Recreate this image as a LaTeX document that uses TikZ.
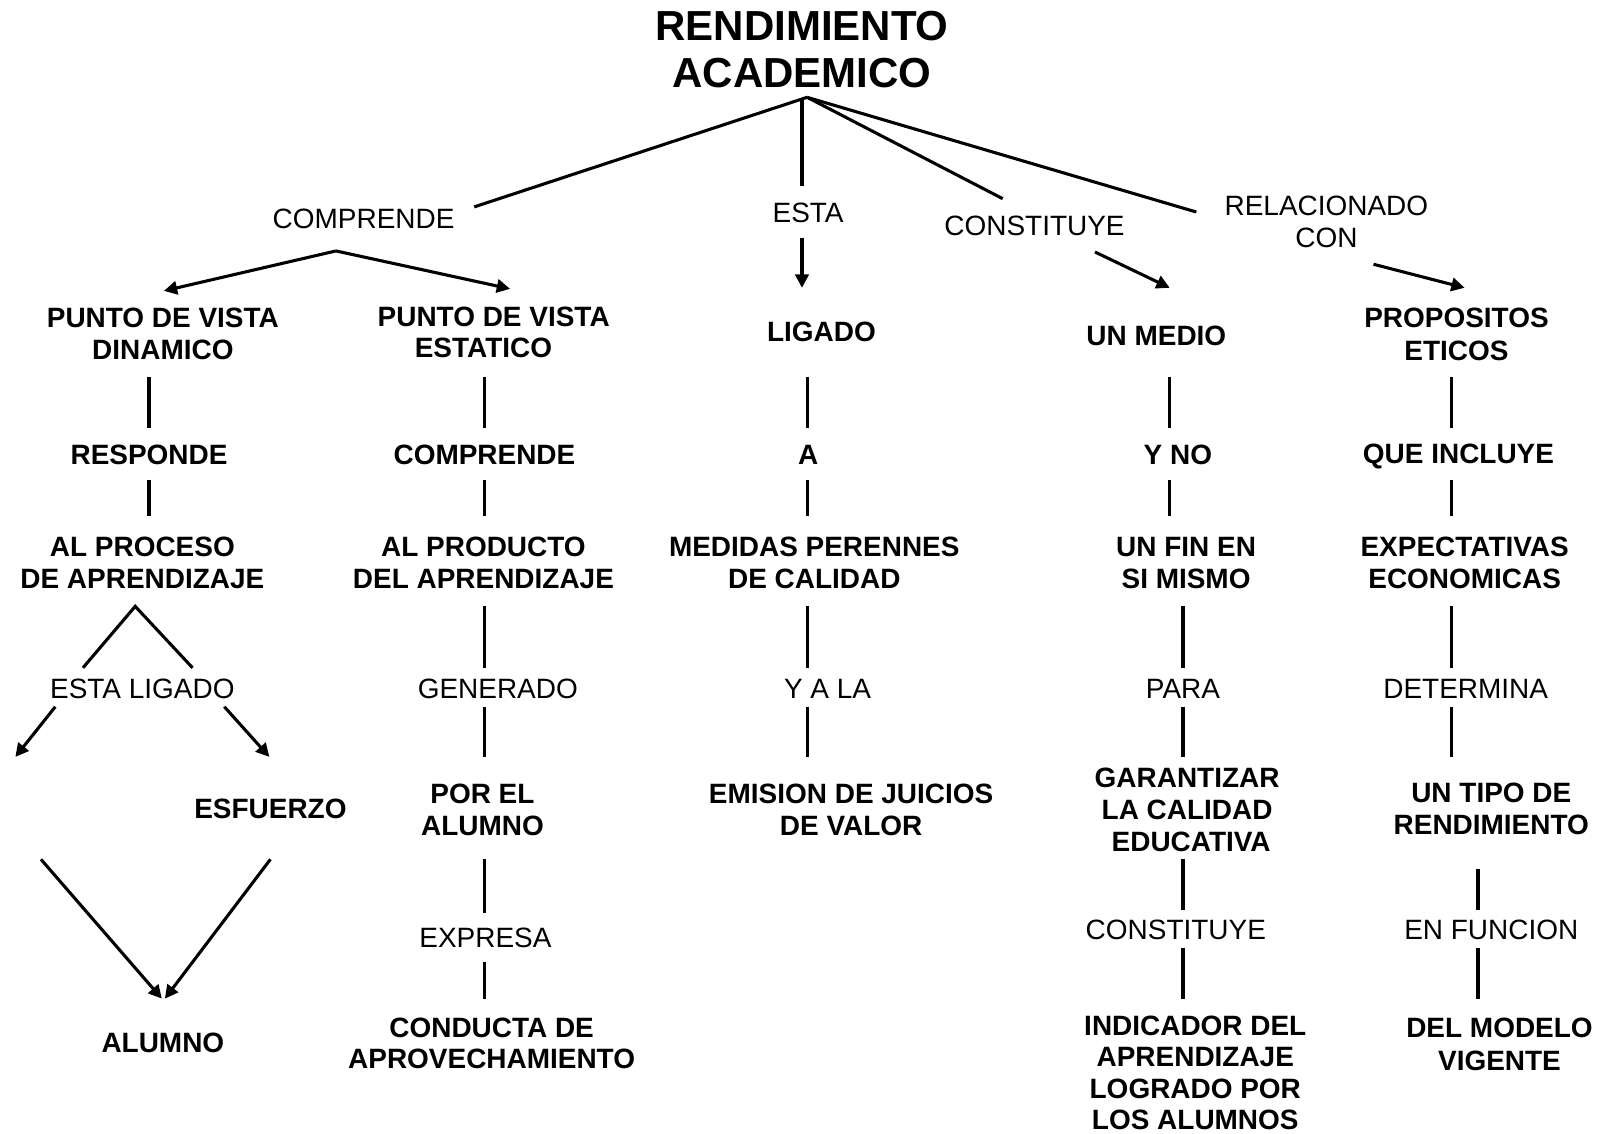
\documentclass[tikz,border=0pt]{standalone}
\usepackage{fontspec}
\setmainfont{Liberation Sans}
\usetikzlibrary{arrows.meta,calc}
% vertical segment between two nodes: upper, lower, dx, offset from upper centre, offset from lower centre
\newcommand\seg[5]{\draw[conn] ($(#2.center |- #1.center)+(#3,#4)$) -- ($(#2.center)+(#3,#5)$);}
\begin{document}
\begin{tikzpicture}[x=1pt,y=-1pt,
  conn/.style={line width=3pt},
  arr/.style={line width=3pt,-{Triangle[length=13pt,width=13pt]}},
  bnode/.style={inner sep=0pt,align=center,font=\fontsize{27.3}{31}\selectfont\bfseries},
  rnode/.style={inner sep=0pt,align=center,font=\fontsize{27.3}{31}\selectfont},
  tnode/.style={inner sep=0pt,align=center,font=\fontsize{41}{46}\selectfont\bfseries}]
\useasboundingbox[fill=white] (0,0) rectangle (1568,1107);

% title and first-level labels
\node[tnode] (title) at (783,48) {RENDIMIENTO\\ACADEMICO};
\node[rnode] (lcomp) at (355,214) {COMPRENDE};
\node[rnode] (lesta) at (789,208) {ESTA};
\node[rnode] (lconst) at (1010,221) {CONSTITUYE};
\node[rnode] (lrel) at (1295,216.5) {RELACIONADO\\CON};

% level 1
\node[bnode] (n11) at (159,326) {PUNTO DE VISTA\\DINAMICO};
\node[bnode] (n21) at (482,324.5) {PUNTO DE VISTA\\ESTATICO\kern20pt};
\node[bnode] (n31) at (802,324) {LIGADO};
\node[bnode] (n41) at (1129,328) {UN MEDIO};
\node[bnode,font=\fontsize{27.3}{33}\selectfont\bfseries] (n51) at (1422,326.5) {PROPOSITOS\\ETICOS};

% level 2 labels
\node[bnode] (r2a) at (145.5,444) {RESPONDE};
\node[bnode] (r2b) at (473,444) {COMPRENDE};
\node[bnode] (r2c) at (789,444) {A};
\node[bnode] (r2d) at (1150,444) {Y NO};
\node[bnode] (r2e) at (1424,446) {QUE INCLUYE};

% level 3
\node[bnode] (r3a) at (139,549.5) {AL PROCESO\\DE APRENDIZAJE};
\node[bnode] (r3b) at (472,549.5) {AL PRODUCTO\\DEL APRENDIZAJE};
\node[bnode] (r3c) at (795,549.5) {MEDIDAS PERENNES\\DE CALIDAD};
\node[bnode] (r3d) at (1158,549.5) {UN FIN EN\\SI MISMO};
\node[bnode] (r3e) at (1430,549.5) {EXPECTATIVAS\\ECONOMICAS};

% level 4 labels
\node[rnode] (l4a) at (139,673) {ESTA LIGADO};
\node[rnode] (l4b) at (486,673) {GENERADO};
\node[rnode] (l4c) at (808,673) {Y A LA};
\node[rnode] (l4d) at (1155,673) {PARA};
\node[rnode] (l4e) at (1431,673) {DETERMINA};

% level 5
\coordinate (vacio) at (15,739);
\node[bnode] (r5a) at (264,790) {ESFUERZO};
\node[bnode] (r5b) at (471,790.5) {POR EL\\ALUMNO};
\node[bnode] (r5c) at (831,790.5) {EMISION DE JUICIOS\\DE VALOR};
\node[bnode] (r5d) at (1159,790.5) {GARANTIZAR\\LA CALIDAD\\\kern8pt EDUCATIVA};
\node[bnode] (r5e) at (1456,790) {UN TIPO DE\\RENDIMIENTO};

% level 6 labels
\node[rnode] (l6b) at (474,915.5) {EXPRESA};
\node[rnode] (l6d) at (1148,908) {CONSTITUYE};
\node[rnode] (l6e) at (1456,908) {EN FUNCION};

% level 7
\node[bnode] (r7a) at (159,1018) {ALUMNO};
\node[bnode,font=\fontsize{27.3}{30}\selectfont\bfseries] (r7b) at (480,1019) {CONDUCTA DE\\APROVECHAMIENTO};
\node[bnode,font=\fontsize{27.3}{30.5}\selectfont\bfseries] (r7d) at (1167,1047.5) {INDICADOR DEL\\APRENDIZAJE\\LOGRADO POR\\LOS ALUMNOS};
\node[bnode,font=\fontsize{27.3}{32}\selectfont\bfseries] (r7e) at (1464,1020) {DEL MODELO\\VIGENTE};

% connectors from the title
\coordinate (apex) at ($(title.center)+(5,47)$);
\draw[conn] (apex) -- ($(lcomp.center)+(108,-12)$);
\draw[conn] ($(title.center)+(0,48)$) -- ($(lesta.center)+(-6,-26)$);
\draw[conn] (apex) -- ($(lconst.center)+(-31,-27)$);
\draw[conn] (apex) -- ($(lrel.center)+(-127,-9.5)$);

% arrows to level 1
\draw[arr] ($(lcomp.center)+(-27,31)$) -- ($(n11.center)+(1,-42)$);
\draw[arr] ($(lcomp.center)+(-27,31)$) -- ($(n21.center)+(16,-42.5)$);
\draw[arr] ($(lesta.center)+(-6,24)$) -- ($(n31.center)+(-19,-43)$);
\draw[arr] ($(lconst.center)+(59,25)$) -- ($(n41.center)+(13,-47)$);
\draw[arr] ($(lrel.center)+(46,41.5)$) -- ($(n51.center)+(8,-45.5)$);

% column 1
\seg{n11}{r2a}{0}{42}{-26}
\seg{r2a}{r3a}{6.5}{25}{-45.5}
\draw[conn] ($(l4a.center)+(-58,-21)$) -- ($(r3a.center)+(-7,42.5)$) -- ($(l4a.center)+(49,-21)$);
\draw[arr] ($(l4a.center)+(-85,17)$) -- (vacio);
\draw[arr] ($(l4a.center)+(80,17)$) -- ($(r5a.center)+(-1,-51)$);
\draw[arr] ($(vacio)+(25,100)$) -- ($(r7a.center)+(-1,-43)$);
\draw[arr] ($(r5a.center)+(0,49)$) -- ($(r7a.center)+(2,-43)$);

% column 2
\seg{n21}{r2b}{0}{43.5}{-26}
\seg{r2b}{r3b}{1}{25}{-45.5}
\seg{r3b}{l4b}{-13}{42.5}{-21}
\seg{l4b}{r5b}{2}{17}{-51.5}
\seg{r5b}{l6b}{-1}{48.5}{-24.5}
\seg{l6b}{r7b}{-7}{23.5}{-44}

% column 3
\seg{n31}{r2c}{-1}{44}{-26}
\seg{r2c}{r3c}{-7}{25}{-45.5}
\seg{r3c}{l4c}{-20}{42.5}{-21}
\seg{l4c}{r5c}{-43}{17}{-51.5}

% column 4
\seg{n41}{r2d}{-8}{40}{-26}
\seg{r2d}{r3d}{-16}{25}{-45.5}
\seg{r3d}{l4d}{0}{42.5}{-21}
\seg{l4d}{r5d}{-4}{17}{-51.5}
\seg{r5d}{l6d}{7}{48.5}{-20}
\seg{l6d}{r7d}{-12}{18}{-72.5}

% column 5
\seg{n51}{r2e}{-7}{41.5}{-28}
\seg{r2e}{r3e}{-13}{23}{-45.5}
\seg{r3e}{l4e}{-14}{42.5}{-21}
\seg{l4e}{r5e}{-39}{17}{-51}
\seg{r5e}{l6e}{-13}{58}{-20}
\seg{l6e}{r7e}{-21}{18}{-45}
\end{tikzpicture}
\end{document}
